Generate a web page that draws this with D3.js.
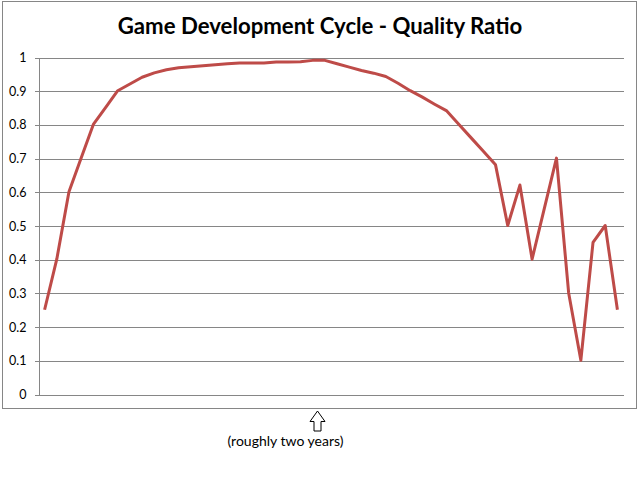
<!DOCTYPE html>
<html>
<head>
<meta charset="utf-8">
<script src="https://cdn.jsdelivr.net/npm/d3@7"></script>
<style>
  html, body { margin: 0; padding: 0; background: #fff; }
  svg { display: block; }
</style>
</head>
<body>
<svg id="chart" width="642" height="480"></svg>
<script>
// ---- data ----
const title = "Game Development Cycle - Quality Ratio";
const annotation = "(roughly two years)";
const categories = d3.range(1, 49).map(String);
const quality = [
  0.25, 0.40, 0.60, 0.70, 0.80, 0.85, 0.90, 0.92, 0.94, 0.953,
  0.962, 0.968, 0.971, 0.974, 0.977, 0.980, 0.982, 0.982, 0.982, 0.985,
  0.985, 0.986, 0.99, 0.99, 0.98, 0.97, 0.96, 0.952, 0.942, 0.922,
  0.90, 0.881, 0.86, 0.84, 0.80, 0.76, 0.72, 0.68, 0.50, 0.62,
  0.40, 0.55, 0.70, 0.30, 0.10, 0.45, 0.50, 0.25
];
const tickValues = [0, 0.1, 0.2, 0.3, 0.4, 0.5, 0.6, 0.7, 0.8, 0.9, 1];
const tickLabels = ["0", "0.1", "0.2", "0.3", "0.4", "0.5", "0.6", "0.7", "0.8", "0.9", "1"];

// ---- layout ----
const svg = d3.select("#chart");
const plot = { left: 38.5, right: 623.5, top: 57, bottom: 394 };
const gridColor = "#868686";
const font = "Lato, 'Open Sans', sans-serif";

// chart border
svg.append("rect")
  .attr("x", 2.5).attr("y", 1.5)
  .attr("width", 634).attr("height", 407)
  .attr("fill", "#fff").attr("stroke", gridColor).attr("stroke-width", 1);

const x = d3.scaleBand().domain(categories).range([plot.left, plot.right]).padding(0);
const y = d3.scaleLinear().domain([0, 1]).range([plot.bottom, plot.top]);

// gridlines
svg.append("g")
  .attr("transform", `translate(${plot.left},0)`)
  .call(d3.axisLeft(y).tickValues(tickValues).tickSize(-(plot.right - plot.left)).tickFormat(""))
  .call(g => g.select(".domain").remove())
  .call(g => g.selectAll(".tick line").attr("stroke", gridColor).attr("shape-rendering", "crispEdges")
      .attr("transform", "translate(0,0.5)"));

// y axis
svg.append("g")
  .attr("transform", `translate(${plot.left},0)`)
  .call(d3.axisLeft(y).tickValues(tickValues).tickSize(4).tickSizeOuter(0)
        .tickFormat((d, i) => tickLabels[i]))
  .call(g => g.select(".domain").attr("stroke", gridColor).attr("shape-rendering", "crispEdges"))
  .call(g => g.selectAll(".tick line").attr("stroke", gridColor).attr("shape-rendering", "crispEdges")
      .attr("transform", "translate(0,0.5)"))
  .call(g => g.selectAll(".tick text").attr("x", -12).attr("dy", "0.36em")
      .attr("font-family", font).attr("font-size", 12.5).attr("fill", "#000"));

// line
const line = d3.line()
  .x((d, i) => x(categories[i]) + x.bandwidth() / 2)
  .y(d => y(d));

svg.append("path")
  .datum(quality)
  .attr("d", line)
  .attr("fill", "none")
  .attr("stroke", "#BE4B48")
  .attr("stroke-width", 3)
  .attr("stroke-linejoin", "round");

// title
svg.append("text")
  .attr("x", 320).attr("y", 34)
  .attr("text-anchor", "middle")
  .attr("font-family", font)
  .attr("font-weight", "bold")
  .attr("font-size", 22.2)
  .attr("fill", "#000")
  .text(title);

// hollow up arrow marker under the x-axis
const arrowX = 317.5, arrowTop = 411;
const arrowPts = [
  [arrowX, arrowTop], [arrowX + 7.5, arrowTop + 10.5], [arrowX + 3.5, arrowTop + 10.5], [arrowX + 3.5, arrowTop + 20],
  [arrowX - 3.5, arrowTop + 20], [arrowX - 3.5, arrowTop + 10.5], [arrowX - 7.5, arrowTop + 10.5]
];
svg.append("path")
  .attr("d", d3.line()(arrowPts) + "Z")
  .attr("fill", "#fff").attr("stroke", "#000").attr("stroke-width", 1);

svg.append("text")
  .attr("x", 285.5).attr("y", 446)
  .attr("text-anchor", "middle")
  .attr("font-family", font)
  .attr("font-size", 14)
  .attr("fill", "#000")
  .text(annotation);
</script>
</body>
</html>
